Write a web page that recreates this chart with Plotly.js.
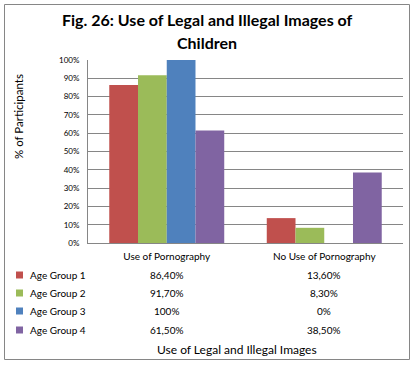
<!DOCTYPE html>
<html><head><meta charset="utf-8">
<script src="https://cdn.plot.ly/plotly-3.0.1.min.js"></script>
<style>html,body{margin:0;padding:0;background:#fff}#c{width:411px;height:365px}</style>
</head><body><div id="c"></div>
<script>
const categories = ["Use of Pornography", "No Use of Pornography"];
const seriesNames = ["Age Group 1", "Age Group 2", "Age Group 3", "Age Group 4"];
const group1 = [86.4, 13.6];
const group2 = [91.7, 8.3];
const group3 = [100, 0];
const group4 = [61.5, 38.5];
const yTicks = [0, 10, 20, 30, 40, 50, 60, 70, 80, 90, 100];
const yTickLabels = ["0%", "10%", "20%", "30%", "40%", "50%", "60%", "70%", "80%", "90%", "100%"];
const titleLines = ["Fig. 26: Use of Legal and Illegal Images of", "Children"];
const colors = ["#C0504D", "#9BBB59", "#4F81BD", "#8064A2"];

const series = [group1, group2, group3, group4];
const FONT = "Lato, 'Open Sans', sans-serif";
// plot area in pixels: x 88..403, y 60..243
const PL = 88, PW = 315, PB = 243, PH = 183;
const px = x => (x - PL) / PW;
const py = y => (PB - y) / PH;

function fmt(v) {
  if (Number.isInteger(v)) return v + "%";
  return v.toFixed(2).replace(".", ",") + "%";
}

const traces = series.map((vals, i) => ({
  type: "bar", name: seriesNames[i], x: categories, y: vals,
  marker: { color: colors[i] }, hoverinfo: "none"
}));

const rowY = [275, 293, 311, 330];
const annotations = [];
const shapes = [];
series.forEach((vals, i) => {
  annotations.push({ xref: "paper", yref: "paper", x: px(28), y: py(rowY[i]), xanchor: "left", yanchor: "middle",
    text: seriesNames[i], showarrow: false, font: { family: FONT, size: 10, color: "#000" } });
  shapes.push({ type: "rect", xref: "paper", yref: "paper", x0: px(16), x1: px(23), y0: py(rowY[i] + 3.5), y1: py(rowY[i] - 3.5),
    fillcolor: colors[i], line: { width: 0 } });
  vals.forEach((v, j) => {
    annotations.push({ xref: "x", yref: "paper", x: categories[j], y: py(rowY[i]), xanchor: "center", yanchor: "middle",
      text: fmt(v), showarrow: false, font: { family: FONT, size: 10, color: "#000" } });
  });
});
const titleY = [20, 43];
titleLines.forEach((t, i) => {
  annotations.push({ xref: "paper", yref: "paper", x: px(207), y: py(titleY[i]), xanchor: "center", yanchor: "middle",
    text: "<b>" + t + "</b>", showarrow: false, font: { family: FONT, size: 16, color: "#000" } });
});
annotations.push({ xref: "paper", yref: "paper", x: px(237), y: py(349), xanchor: "center", yanchor: "middle",
  text: "Use of Legal and Illegal Images", showarrow: false, font: { family: FONT, size: 12, color: "#000" } });
annotations.push({ xref: "paper", yref: "paper", x: px(18), y: py(117), xanchor: "center", yanchor: "middle", textangle: -90,
  text: "% of Participants", showarrow: false, font: { family: FONT, size: 11.5, color: "#000" } });
// outer chart border
shapes.push({ type: "rect", xref: "paper", yref: "paper", x0: px(4.5), x1: px(409.5), y0: py(359.5), y1: py(4.5),
  line: { color: "#868686", width: 1 }, fillcolor: "rgba(0,0,0,0)", layer: "above" });

const layout = {
  width: 411, height: 365,
  margin: { l: PL, r: 411 - PL - PW, t: PB - PH, b: 365 - PB },
  paper_bgcolor: "#fff", plot_bgcolor: "#fff",
  showlegend: false,
  barmode: "group", bargap: 0.27, bargroupgap: 0,
  xaxis: { type: "category", showgrid: false, showline: true, linecolor: "#868686", linewidth: 1,
    ticks: "", tickfont: { family: FONT, size: 10, color: "#000" }, ticklabelstandoff: 4, fixedrange: true },
  yaxis: { range: [0, 100], tickvals: yTicks, ticktext: yTickLabels, showgrid: true, gridcolor: "#868686", gridwidth: 1,
    showline: true, linecolor: "#868686", linewidth: 1, zeroline: false, ticks: "",
    tickfont: { family: FONT, size: 8, color: "#000" }, ticklabelstandoff: 6, fixedrange: true },
  annotations, shapes
};
Plotly.newPlot("c", traces, layout, { staticPlot: true, displayModeBar: false });
</script></body></html>
